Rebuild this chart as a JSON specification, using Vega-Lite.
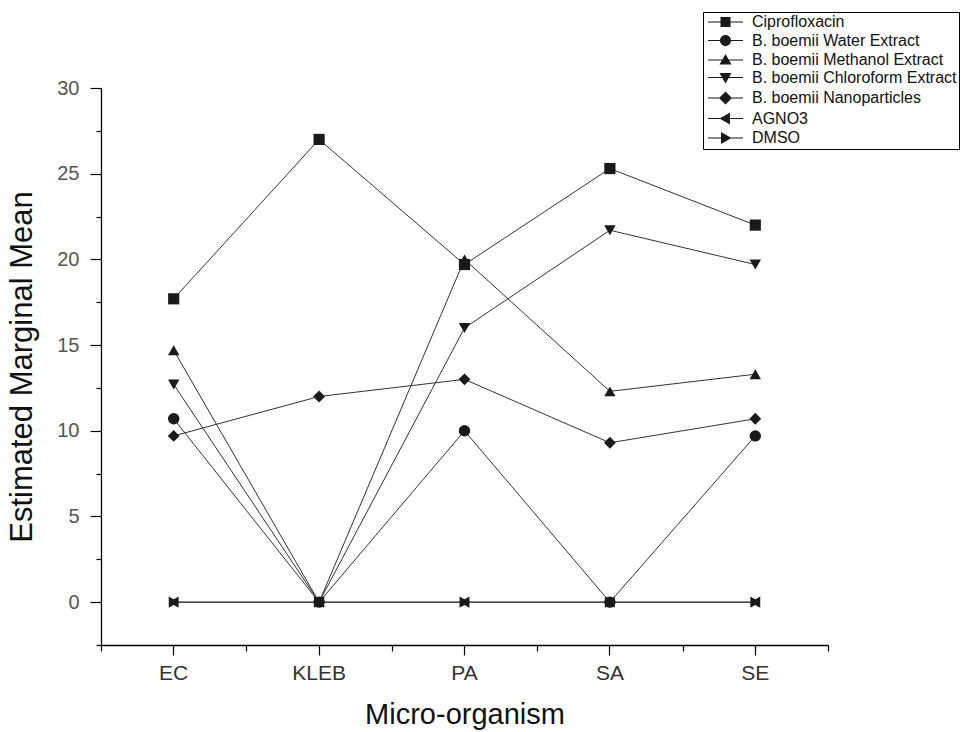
{
  "$schema": "https://vega.github.io/schema/vega-lite/v6.json",
  "width": 727,
  "height": 557,
  "autosize": {"type": "none"},
  "padding": {"left": 101, "top": 88, "right": 139, "bottom": 87},
  "background": "white",
  "config": {"view": {"stroke": null}, "font": "Liberation Sans"},
  "data": {"values": [
    {"series": "Ciprofloxacin", "organism": "EC", "value": 17.7},
    {"series": "Ciprofloxacin", "organism": "KLEB", "value": 27.0},
    {"series": "Ciprofloxacin", "organism": "PA", "value": 19.7},
    {"series": "Ciprofloxacin", "organism": "SA", "value": 25.3},
    {"series": "Ciprofloxacin", "organism": "SE", "value": 22.0},
    {"series": "B. boemii Water Extract", "organism": "EC", "value": 10.7},
    {"series": "B. boemii Water Extract", "organism": "KLEB", "value": 0},
    {"series": "B. boemii Water Extract", "organism": "PA", "value": 10.0},
    {"series": "B. boemii Water Extract", "organism": "SA", "value": 0},
    {"series": "B. boemii Water Extract", "organism": "SE", "value": 9.7},
    {"series": "B. boemii Methanol Extract", "organism": "EC", "value": 14.7},
    {"series": "B. boemii Methanol Extract", "organism": "KLEB", "value": 0},
    {"series": "B. boemii Methanol Extract", "organism": "PA", "value": 20.0},
    {"series": "B. boemii Methanol Extract", "organism": "SA", "value": 12.3},
    {"series": "B. boemii Methanol Extract", "organism": "SE", "value": 13.3},
    {"series": "B. boemii Chloroform Extract", "organism": "EC", "value": 12.7},
    {"series": "B. boemii Chloroform Extract", "organism": "KLEB", "value": 0},
    {"series": "B. boemii Chloroform Extract", "organism": "PA", "value": 16.0},
    {"series": "B. boemii Chloroform Extract", "organism": "SA", "value": 21.7},
    {"series": "B. boemii Chloroform Extract", "organism": "SE", "value": 19.7},
    {"series": "B. boemii Nanoparticles", "organism": "EC", "value": 9.7},
    {"series": "B. boemii Nanoparticles", "organism": "KLEB", "value": 12.0},
    {"series": "B. boemii Nanoparticles", "organism": "PA", "value": 13.0},
    {"series": "B. boemii Nanoparticles", "organism": "SA", "value": 9.3},
    {"series": "B. boemii Nanoparticles", "organism": "SE", "value": 10.7},
    {"series": "AGNO3", "organism": "EC", "value": 0},
    {"series": "AGNO3", "organism": "KLEB", "value": 0},
    {"series": "AGNO3", "organism": "PA", "value": 0},
    {"series": "AGNO3", "organism": "SA", "value": 0},
    {"series": "AGNO3", "organism": "SE", "value": 0},
    {"series": "DMSO", "organism": "EC", "value": 0},
    {"series": "DMSO", "organism": "KLEB", "value": 0},
    {"series": "DMSO", "organism": "PA", "value": 0},
    {"series": "DMSO", "organism": "SA", "value": 0},
    {"series": "DMSO", "organism": "SE", "value": 0}
  ]},
  "encoding": {
    "y": {
      "field": "value",
      "type": "quantitative",
      "scale": {"domain": [-2.5, 30], "nice": false, "zero": false},
      "axis": {
        "values": [-2.5, 0, 2.5, 5, 7.5, 10, 12.5, 15, 17.5, 20, 22.5, 25, 27.5, 30],
        "labelExpr": "datum.value % 5 === 0 ? datum.label : ''",
        "tickSize": {"condition": {"test": "datum.value % 5 === 0", "value": 11}, "value": 5},
        "labelFontSize": 20,
        "labelColor": "#555",
        "labelPadding": 11,
        "title": "Estimated Marginal Mean",
        "titleFontSize": 31,
        "titleFontWeight": "normal",
        "titleColor": "#111",
        "titlePadding": 18,
        "domainColor": "black",
        "domainWidth": 1.3,
        "tickColor": "black",
        "tickWidth": 1.2,
        "grid": false
      }
    }
  },
  "layer": [
    {
      "mark": {"type": "line", "stroke": "#333", "strokeWidth": 1},
      "encoding": {
        "x": {
          "field": "organism", "type": "nominal", "sort": ["EC", "KLEB", "PA", "SA", "SE"],
          "scale": {"type": "band", "paddingInner": 0, "paddingOuter": 0},
          "axis": {
            "orient": "bottom",
            "title": "Micro-organism",
            "labelAngle": 0,
            "labelFontSize": 21,
            "labelColor": "#333",
            "tickSize": 10,
            "labelPadding": 7,
            "titleFontSize": 29,
            "titleFontWeight": "normal",
            "titleColor": "#111",
            "titlePadding": 17,
            "domainColor": "black",
            "domainWidth": 1.3,
            "tickColor": "black",
            "tickWidth": 1.2,
            "grid": false
          }
        },
        "detail": {"field": "series", "type": "nominal"}
      }
    },
    {
      "encoding": {
        "x": {
          "field": "organism", "type": "nominal", "sort": ["EC", "KLEB", "PA", "SA", "SE"],
          "axis": {
            "orient": "bottom",
            "tickBand": "extent",
            "labels": false,
            "title": null,
            "tickSize": 6,
            "domain": false,
            "tickColor": "black",
            "tickWidth": 1.2,
            "grid": false
          }
        }
      },
      "layer": [
        {"transform": [{"filter": {"field": "series", "equal": "Ciprofloxacin"}}], "mark": {"type": "point", "shape": "square", "filled": true, "size": 125, "color": "#1a1a1a", "opacity": 1}},
        {"transform": [{"filter": {"field": "series", "equal": "B. boemii Water Extract"}}], "mark": {"type": "point", "shape": "circle", "filled": true, "size": 130, "color": "#1a1a1a", "opacity": 1}},
        {"transform": [{"filter": {"field": "series", "equal": "B. boemii Methanol Extract"}}], "mark": {"type": "point", "shape": "triangle-up", "filled": true, "size": 130, "color": "#1a1a1a", "opacity": 1}},
        {"transform": [{"filter": {"field": "series", "equal": "B. boemii Chloroform Extract"}}], "mark": {"type": "point", "shape": "triangle-down", "filled": true, "size": 130, "color": "#1a1a1a", "opacity": 1}},
        {"transform": [{"filter": {"field": "series", "equal": "B. boemii Nanoparticles"}}], "mark": {"type": "point", "shape": "diamond", "filled": true, "size": 140, "color": "#1a1a1a", "opacity": 1}},
        {"transform": [{"filter": {"field": "series", "equal": "AGNO3"}}], "mark": {"type": "point", "shape": "triangle-left", "filled": true, "size": 130, "color": "#1a1a1a", "opacity": 1}},
        {"transform": [{"filter": {"field": "series", "equal": "DMSO"}}], "mark": {"type": "point", "shape": "triangle-right", "filled": true, "size": 130, "color": "#1a1a1a", "opacity": 1}}
      ]
    },
    {
      "mark": {"type": "point", "filled": true, "size": 100, "color": "#1a1a1a", "opacity": 0},
      "encoding": {
        "x": {"field": "organism", "type": "nominal", "sort": ["EC", "KLEB", "PA", "SA", "SE"], "axis": null},
        "shape": {
          "field": "series", "type": "nominal",
          "scale": {
            "domain": ["Ciprofloxacin", "B. boemii Water Extract", "B. boemii Methanol Extract", "B. boemii Chloroform Extract", "B. boemii Nanoparticles", "AGNO3", "DMSO"],
            "range": [
              "M-1,-0.11H6V0.11H-1ZM1.5,-1H3.5V1H1.5Z",
              "M-1,-0.11H6V0.11H-1ZM3.6,0A1.1,1.1 0 1,1 1.4,0A1.1,1.1 0 1,1 3.6,0Z",
              "M-1,-0.11H6V0.11H-1ZM2.5,-1.2L3.7,0.9H1.3Z",
              "M-1,-0.11H6V0.11H-1ZM2.5,1.2L1.3,-0.9H3.7Z",
              "M-1,-0.11H6V0.11H-1ZM2.5,-1.3L3.8,0L2.5,1.3L1.2,0Z",
              "M-1,-0.11H6V0.11H-1ZM1.3,0L3.4,-1.2V1.2Z",
              "M-1,-0.11H6V0.11H-1ZM3.7,0L1.6,1.2V-1.2Z"
            ]
          },
          "legend": {
            "orient": "none",
            "legendX": 602,
            "legendY": -76,
            "title": null,
            "labelFontSize": 16,
            "labelColor": "#111",
            "labelFont": "Liberation Sans",
            "symbolSize": 100,
            "symbolFillColor": "#1a1a1a",
            "symbolOpacity": 1,
            "labelOffset": 31,
            "rowPadding": 1.5,
            "padding": 2,
            "strokeColor": "black",
            "fillColor": "white",
            "labelLimit": 400,
            "encode": {
              "symbols": {
                "update": {
                  "opacity": {"value": 1}
                }
              }
            }
          }
        }
      }
    }
  ],
  "resolve": {"axis": {"x": "independent"}}
}
